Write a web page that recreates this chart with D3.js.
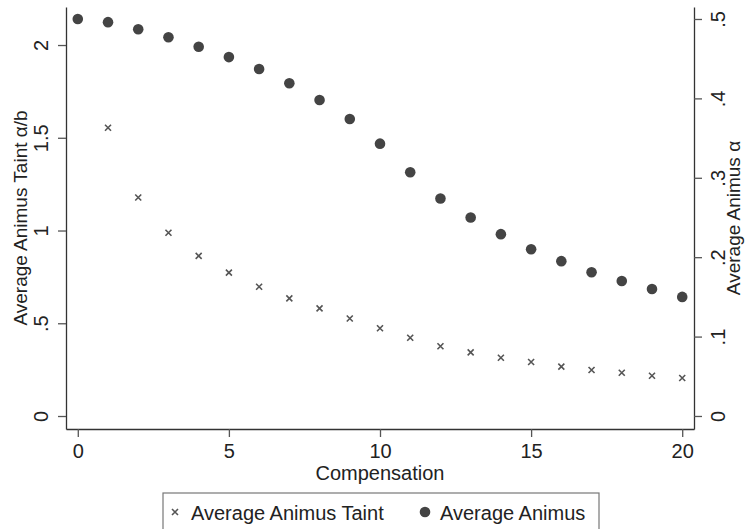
<!DOCTYPE html>
<html>
<head>
<meta charset="utf-8">
<script src="https://cdn.jsdelivr.net/npm/d3@7"></script>
<style>
  body { margin: 0; background: #fff; }
  svg { display: block; font-family: "Liberation Sans", Arial, sans-serif; }
</style>
</head>
<body>
<svg id="chart" width="745" height="529"></svg>
<script>
// compensation levels 0..20
const compensation = [0, 1, 2, 3, 4, 5, 6, 7, 8, 9, 10, 11, 12, 13, 14, 15, 16, 17, 18, 19, 20]
// average animus taint a/b (left axis), undefined at 0
const animusTaint = [null, 1.554, 1.178, 0.988, 0.863, 0.773, 0.697, 0.634, 0.580, 0.526, 0.473,
  0.422, 0.376, 0.343, 0.314, 0.291, 0.266, 0.248, 0.233, 0.217, 0.205]
// average animus a (right axis)
const animus = [0.500, 0.496, 0.487, 0.477, 0.465, 0.452, 0.437, 0.419, 0.398, 0.374, 0.343,
  0.307, 0.274, 0.250, 0.229, 0.210, 0.195, 0.181, 0.170, 0.160, 0.150]

const xTicks = [0, 5, 10, 15, 20]
const leftTicks = [0, 0.5, 1, 1.5, 2]
const rightTicks = [0, 0.1, 0.2, 0.3, 0.4, 0.5]
const legendLabels = ['Average Animus Taint', 'Average Animus']

const margin = {top: 7, right: 51, bottom: 100, left: 66}
const width = 745, height = 529
const innerW = width - margin.left - margin.right
const innerH = height - margin.top - margin.bottom

const ink = '#222', markColor = '#444'
const fmt = d => d3.format('.1~f')(d).replace(/^0\./, '.')

const svg = d3.select('#chart')
const g = svg.append('g').attr('transform', `translate(${margin.left},${margin.top})`)

// scales (ranges picked so the plot region matches the figure)
const x = d3.scaleLinear().domain([-0.39, 20.39]).range([0, innerW])
const yL = d3.scaleLinear().domain([-0.07, 2.205]).range([innerH, 0])
const yR = d3.scaleLinear().domain([-0.0164, 0.5151]).range([innerH, 0])

// axes
const axisStyle = (sel) => {
  sel.select('.domain').attr('stroke', '#333').attr('stroke-width', 1.3)
  sel.selectAll('.tick line').attr('stroke', '#555').attr('stroke-width', 1.3)
  sel.selectAll('.tick text').attr('fill', ink).style('font-size', '20px')
}

const xAxis = g.append('g')
  .attr('transform', `translate(0,${innerH})`)
  .call(d3.axisBottom(x).tickValues(xTicks).tickSize(8).tickSizeOuter(0).tickFormat(d3.format('d')))
axisStyle(xAxis)
xAxis.selectAll('.tick text').attr('y', 0).attr('dy', 0).attr('transform', 'translate(0,29)')

const lAxis = g.append('g')
  .call(d3.axisLeft(yL).tickValues(leftTicks).tickSize(8).tickSizeOuter(0).tickFormat(fmt))
axisStyle(lAxis)
lAxis.selectAll('.tick text')
  .attr('x', 0).attr('dy', 0).attr('text-anchor', 'middle')
  .attr('transform', 'translate(-18,0) rotate(-90)')

const rAxis = g.append('g')
  .attr('transform', `translate(${innerW},0)`)
  .call(d3.axisRight(yR).tickValues(rightTicks).tickSize(8).tickSizeOuter(0).tickFormat(fmt))
axisStyle(rAxis)
rAxis.selectAll('.tick text')
  .attr('x', 0).attr('dy', 0).attr('text-anchor', 'middle')
  .attr('transform', 'translate(31,0) rotate(-90)')

// axis titles
g.append('text')
  .attr('transform', `translate(${x(10)},${innerH + 51})`)
  .attr('text-anchor', 'middle').attr('fill', ink).style('font-size', '20px')
  .text('Compensation')

g.append('text')
  .attr('transform', `translate(${27 - margin.left},${innerH / 2}) rotate(-90)`)
  .attr('text-anchor', 'middle').attr('fill', ink).style('font-size', '19px')
  .text('Average Animus Taint α/b')

g.append('text')
  .attr('transform', `translate(${innerW + 46},${innerH / 2}) rotate(-90)`)
  .attr('text-anchor', 'middle').attr('fill', ink).style('font-size', '19px')
  .text('Average Animus α')

// cross marker path
const cross = (s) => `M${-s},${-s}L${s},${s}M${-s},${s}L${s},${-s}`

// average animus (circles, right axis)
g.append('g').selectAll('circle')
  .data(compensation.map((c, i) => ({c, v: animus[i]})))
  .join('circle')
    .attr('cx', d => x(d.c))
    .attr('cy', d => yR(d.v))
    .attr('r', 5.3)
    .attr('fill', markColor)

// average animus taint (crosses, left axis)
g.append('g').selectAll('path')
  .data(compensation.map((c, i) => ({c, v: animusTaint[i]})).filter(d => d.v != null))
  .join('path')
    .attr('transform', d => `translate(${x(d.c)},${yL(d.v)})`)
    .attr('d', cross(3))
    .attr('stroke', '#555').attr('stroke-width', 1.6).attr('fill', 'none')

// legend
const lg = svg.append('g').attr('class', 'legend')
lg.append('rect')
  .attr('x', 163).attr('y', 493).attr('width', 436).attr('height', 40)
  .attr('fill', '#fff').attr('stroke', '#777').attr('stroke-width', 1.2)

lg.append('path')
  .attr('transform', 'translate(175,512)')
  .attr('d', cross(3))
  .attr('stroke', '#555').attr('stroke-width', 1.6).attr('fill', 'none')
lg.append('text').attr('x', 191).attr('y', 519.5)
  .attr('fill', ink).style('font-size', '20px').text(legendLabels[0])

lg.append('circle').attr('cx', 425).attr('cy', 512).attr('r', 5.3).attr('fill', markColor)
lg.append('text').attr('x', 440).attr('y', 519.5)
  .attr('fill', ink).style('font-size', '20px').text(legendLabels[1])
</script>
</body>
</html>
